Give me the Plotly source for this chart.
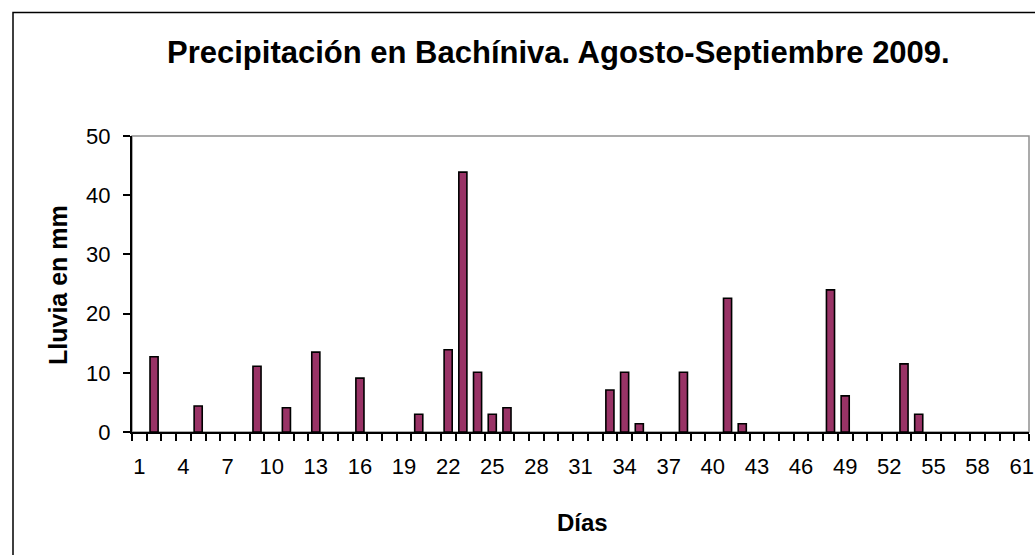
import plotly.graph_objects as go

days = list(range(1, 62))
rain_days = [2, 5, 9, 11, 13, 16, 20, 22, 23, 24, 25, 26, 33, 34, 35, 38, 41, 42, 48, 49, 53, 54]
rain_mm = [12.7, 4.4, 11.1, 4.1, 13.5, 9.1, 3.0, 13.9, 43.9, 10.1, 3.0, 4.1, 7.1, 10.1, 1.4, 10.1, 22.6, 1.4, 24.0, 6.1, 11.5, 3.0]
rain_map = dict(zip(rain_days, rain_mm))
values = [rain_map.get(d, 0) for d in days]
x_tick_labels = [str(d) for d in range(1, 62, 3)]
y_ticks = [0, 10, 20, 30, 40, 50]

W, H = 1035, 555
L, R, T, B = 132, 1029, 136, 432
pw, ph = R - L, B - T

def px(x):
    return (x - L) / pw

def py(y):
    return (B - y) / ph

font = "Liberation Sans, Arial, sans-serif"

fig = go.Figure()
fig.add_trace(go.Bar(
    x=days, y=values, width=0.55,
    marker=dict(color="#993366",
                line=dict(color="black", width=[1.6 if v > 0 else 0 for v in values])),
))

fig.update_layout(
    width=W, height=H,
    margin=dict(l=L, r=W - R, t=T, b=H - B, autoexpand=False),
    paper_bgcolor="white", plot_bgcolor="white",
    showlegend=False,
    font=dict(family=font, size=22, color="black"),
    shapes=[
        dict(type="rect", xref="paper", yref="paper", x0=0, x1=1, y0=0, y1=1,
             line=dict(color="#909090", width=1.5), layer="below"),
        dict(type="rect", xref="paper", yref="paper", x0=px(13), x1=px(1060), y0=py(580), y1=py(12.5),
             line=dict(color="black", width=1.5), layer="below"),
    ],
    annotations=[
        dict(text="<b>Precipitación en Bachíniva. Agosto-Septiembre 2009.</b>", xref="paper", yref="paper",
             x=px(558), y=py(53), showarrow=False, font=dict(size=31), xanchor="center", yanchor="middle"),
        dict(text="<b>Lluvia en mm</b>", xref="paper", yref="paper", x=px(58), y=py(285),
             showarrow=False, textangle=-90, font=dict(size=25), xanchor="center", yanchor="middle"),
        dict(text="<b>Días</b>", xref="paper", yref="paper", x=px(582), y=py(522),
             showarrow=False, font=dict(size=24), xanchor="center", yanchor="middle"),
    ],
)

fig.update_xaxes(
    range=[0.5, 61.5], tickmode="array", tickvals=list(range(1, 62, 3)), ticktext=x_tick_labels,
    ticks="", showgrid=False, zeroline=False, showline=True, linecolor="black", linewidth=2,
    ticklabelstandoff=14, tickfont=dict(size=22),
    minor=dict(tick0=0.5, dtick=1, ticks="outside", ticklen=7, tickwidth=2, tickcolor="black", showgrid=False),
)
fig.update_yaxes(
    range=[0, 50], tickmode="array", tickvals=y_ticks, ticks="outside", ticklen=7, tickwidth=2,
    tickcolor="black", showgrid=False, zeroline=False, showline=True, linecolor="black", linewidth=2,
    ticklabelstandoff=8, tickfont=dict(size=22),
)

fig.write_html("out.html", config={"displayModeBar": False},
               post_script="document.body.style.margin='0';document.body.style.overflow='hidden';")
